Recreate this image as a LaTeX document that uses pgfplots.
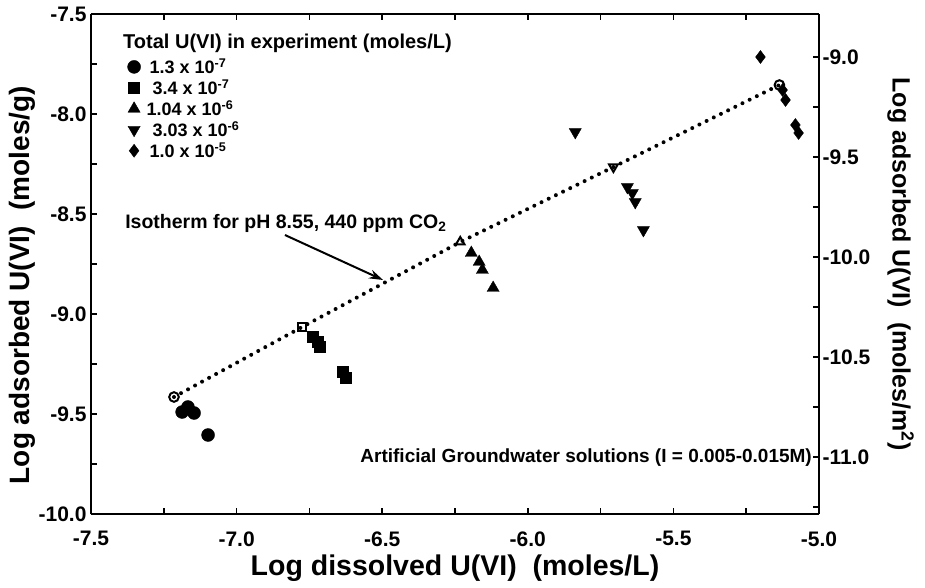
\documentclass[border=0pt]{standalone}
\usepackage{fontspec}
\setmainfont{Liberation Sans}
\usepackage{pgfplots}
\pgfplotsset{compat=1.18}
\usetikzlibrary{arrows.meta}
\begin{document}
\begin{tikzpicture}[font=\bfseries]
\useasboundingbox (-91bp,-74bp) rectangle (834bp,514bp);
\pgfplotsset{
  common/.style={
    at={(0,0)}, anchor=south west, scale only axis,
    width=728bp, height=500bp,
    xmin=-7.5, xmax=-5.0,
    tick align=inside,
    major tick length=6bp, minor tick length=6bp,
    every tick/.style={black, line width=1.6bp},
    axis line style={line width=2.2bp},
    /pgf/number format/assume math mode=true,
    /pgf/number format/fixed, /pgf/number format/fixed zerofill,
    /pgf/number format/precision=1,
    tick label style={font=\fontsize{21bp}{24bp}\selectfont\bfseries},
  }
}
\begin{axis}[common,
  ymin=-10, ymax=-7.5,
  axis y line*=left,
  xtick={-7.5,-7.0,-6.5,-6.0,-5.5,-5.0},
  minor xtick={-7.25,-6.75,-6.25,-5.75,-5.25},
  ytick={-10.0,-9.5,-9.0,-8.5,-8.0,-7.5},
  minor ytick={-9.75,-9.25,-8.75,-8.25,-7.75},
  xlabel={Log dissolved U(VI)\ \ (moles/L)},
  ylabel={Log adsorbed U(VI)\ \ (moles/g)},
  xlabel style={font=\fontsize{28.5bp}{30bp}\selectfont\bfseries,
    at={(axis description cs:0.5,-0.108)}, anchor=center},
  ylabel style={font=\fontsize{28bp}{30bp}\selectfont\bfseries,
    at={(axis description cs:-0.095,0.458)}, anchor=center, rotate=0},
  xticklabel style={yshift=-14bp},
  yticklabel style={xshift=-1bp},
  legend style={at={(rel axis cs:0.05,0.915)}, anchor=north west, draw=none, fill=none,
    font=\fontsize{18bp}{20bp}\selectfont\bfseries, row sep=0.5bp, inner sep=0pt,
    /tikz/every odd column/.append style={column sep=7bp}},
  legend cell align=left,
]
% isotherm (dotted)
\addplot[black, line width=4bp, line cap=round, dash pattern=on 0pt off 8bp, forget plot]
  coordinates {(-7.215,-9.415) (-6.775,-9.065) (-6.232,-8.64) (-5.706,-8.265) (-5.136,-7.855)};

\addplot[only marks, mark=*, mark size=6.5bp, black, mark options={fill=black}]
  coordinates {(-7.187,-9.49) (-7.167,-9.465) (-7.146,-9.495) (-7.098,-9.605)};
\addlegendentry{1.3 x 10\textsuperscript{-7}}
\addplot[only marks, mark=square*, mark size=5.5bp, black, mark options={fill=black}]
  coordinates {(-6.737,-9.115) (-6.72,-9.14) (-6.713,-9.165) (-6.637,-9.29) (-6.627,-9.32)};
\addlegendentry{\,3.4 x 10\textsuperscript{-7}}
\addplot[only marks, mark=triangle*, mark size=7bp, black, mark options={fill=black}]
  coordinates {(-6.194,-8.695) (-6.167,-8.74) (-6.156,-8.78) (-6.119,-8.87)};
\addlegendentry{\hspace{-3bp}1.04 x 10\textsuperscript{-6}}
\addplot[only marks, mark=triangle*, mark size=7bp, black, mark options={fill=black, rotate=180}]
  coordinates {(-5.837,-8.09) (-5.658,-8.365) (-5.641,-8.395) (-5.631,-8.44) (-5.603,-8.58)};
\addlegendentry{\,3.03 x 10\textsuperscript{-6}}
\addplot[only marks, mark=diamond*, mark size=6.5bp, black, mark options={fill=black}]
  coordinates {(-5.201,-7.715) (-5.125,-7.88) (-5.115,-7.93) (-5.081,-8.055) (-5.070,-8.095)};
\addlegendentry{1.0 x 10\textsuperscript{-5}}

% open isotherm markers
\addplot[only marks, mark=o, mark size=4.8bp, black, line width=2bp, mark options={fill=white}, forget plot]
  coordinates {(-7.215,-9.415) (-5.136,-7.855)};
\addplot[only marks, mark=square, mark size=4.2bp, black, line width=2bp, mark options={fill=white}, forget plot]
  coordinates {(-6.775,-9.065)};
\addplot[only marks, mark=triangle, mark size=5bp, black, line width=2bp, mark options={fill=white}, forget plot]
  coordinates {(-6.232,-8.64)};
\addplot[only marks, mark=triangle, mark size=5bp, black, line width=2bp, mark options={fill=white, rotate=180}, forget plot]
  coordinates {(-5.706,-8.265)};

\node[anchor=west, inner sep=0pt, font=\fontsize{20bp}{22bp}\selectfont\bfseries]
  at (axis cs:-7.39,-7.645) {Total U(VI) in experiment (moles/L)};
\node[anchor=west, inner sep=0pt, font=\fontsize{19.5bp}{22bp}\selectfont\bfseries]
  at (axis cs:-7.383,-8.545) {Isotherm for pH 8.55, 440 ppm CO\textsubscript{2}};
\draw[-{Stealth[length=14bp,width=9bp]}, line width=2bp]
  (axis cs:-6.834,-8.605) -- (axis cs:-6.497,-8.83);
\node[anchor=east, inner sep=0pt, font=\fontsize{19bp}{21bp}\selectfont\bfseries]
  at (axis cs:-5.024,-9.72) {Artificial Groundwater solutions (I = 0.005-0.015M)};
\end{axis}

\begin{axis}[common,
  ymin=-11.285, ymax=-8.785,
  axis y line*=right, axis x line=none,
  ytick={-11.0,-10.5,-10.0,-9.5,-9.0},
  minor ytick={-11.25,-10.75,-10.25,-9.75,-9.25},
  ylabel={Log adsorbed U(VI)\ \ (moles/m\textsuperscript{2})},
  ylabel style={font=\fontsize{25bp}{28bp}\selectfont\bfseries,
    at={(axis description cs:1.112,0.5)}, anchor=center, rotate=180},
]
\end{axis}
\end{tikzpicture}
\end{document}
